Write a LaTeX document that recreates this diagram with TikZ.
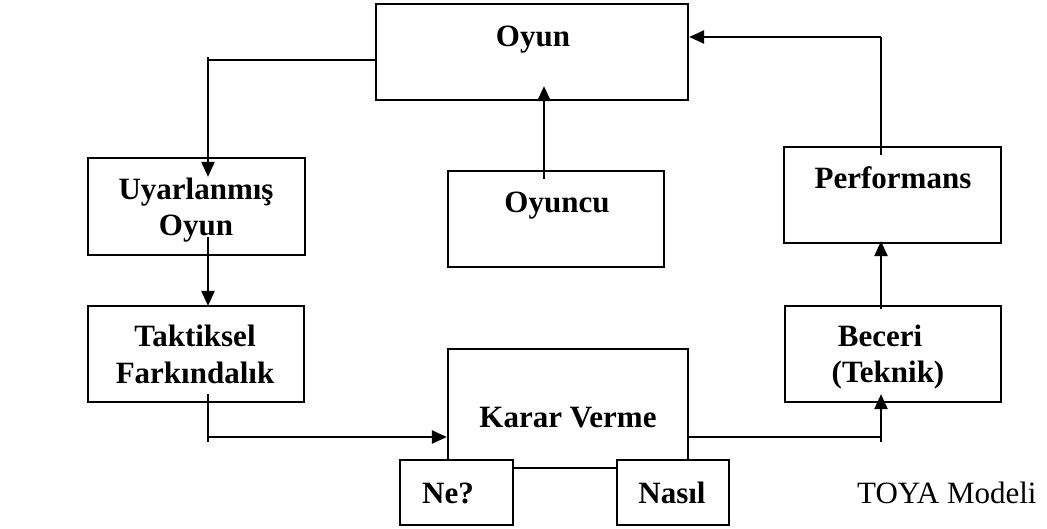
\documentclass[tikz,border=0pt]{standalone}
\usepackage{fontspec}
\setmainfont{Liberation Serif}
\usetikzlibrary{arrows.meta}
\tikzset{
  box/.style={draw=black, line width=2.2pt, fill=white, rectangle, inner sep=0pt},
  lbl/.style={font=\fontsize{31}{36}\selectfont\bfseries, align=center, inner sep=0pt, anchor=base},
  conn/.style={draw=black, line width=2.2pt},
  arr/.style={conn, -{Triangle[length=15pt,width=13pt]}},
}
\begin{document}
\begin{tikzpicture}[x=1pt,y=-1pt]
\useasboundingbox (0,0) rectangle (1047,529);
% boxes
\node[box, minimum width=312pt, minimum height=96pt] (oyun) at (532,52) {};
\node[box, minimum width=216pt, minimum height=96pt] (oyuncu) at (556,219) {};
\node[box, minimum width=217pt, minimum height=97pt] (uyar) at (196.5,206.5) {};
\node[box, minimum width=216pt, minimum height=96pt] (takt) at (196,354) {};
\node[box, minimum width=240pt, minimum height=119pt] (karar) at (568,408.5) {};
\node[box, minimum width=113pt, minimum height=65pt] (ne) at (456.5,492.5) {};
\node[box, minimum width=112pt, minimum height=65pt] (nasil) at (673,492.5) {};
\node[box, minimum width=216pt, minimum height=96pt] (beceri) at (893,354) {};
\node[box, minimum width=217pt, minimum height=96pt] (perf) at (892.5,195) {};
% labels
\node[lbl] (toyun) at (533,47) {Oyun};
\node[lbl] (toyuncu) at (557,213) {Oyuncu};
\node[lbl] (tuyar) at (196,236) {Uyarlanmış\\Oyun};
\node[lbl] (ttakt) at (195,383) {Taktiksel\\Farkındalık};
\node[lbl] (tkarar) at (568,427) {Karar Verme};
\node[lbl] (tne) at (448,503) {Ne?};
\node[lbl] (tnasil) at (672,503) {Nasıl};
\node[lbl] (tbeceri) at (888,382) {Beceri\hspace*{16pt}\\(Teknik)};
\node[lbl] (tperf) at (893,189) {Performans};
\node[font=\fontsize{31}{35}\selectfont, anchor=base west, inner sep=0pt] (toya) at (857,503) {TOYA Modeli};
% connector points
\coordinate (c1) at (208,60);
\coordinate (c1b) at (208,57);
\coordinate (c3) at (208,437);
\coordinate (c3b) at (208,442);
\coordinate (c4) at (881,437);
\coordinate (c4b) at (881,442);
\coordinate (c6) at (881,37);
\coordinate (c7) at (544,0);
% connectors
\draw[conn] (oyun.west |- c1) -- (c1);
\draw[arr] (c1b) -- ([yshift=-20pt]uyar.north -| c1);
\draw[arr] ([yshift=19pt]uyar.south -| c1) -- ([yshift=-1pt]takt.north -| c1);
\draw[conn] ([yshift=9pt]takt.south -| c3) -- (c3b);
\draw[arr] (c3) -- (karar.west |- c3);
\draw[conn] (karar.east |- c4) -- (c4);
\draw[arr] (c4b) -- ([yshift=9pt]beceri.south -| c4);
\draw[arr] ([yshift=-4pt]beceri.north -| c4) -- ([yshift=3pt]perf.south -| c4);
\draw[conn] ([yshift=-9pt]perf.north -| c6) -- (c6);
\draw[arr] (c6) -- (oyun.east |- c6);
\draw[arr] ([yshift=-9pt]oyuncu.north -| c7) -- ([yshift=15pt]oyun.south -| c7);
\end{tikzpicture}
\end{document}
